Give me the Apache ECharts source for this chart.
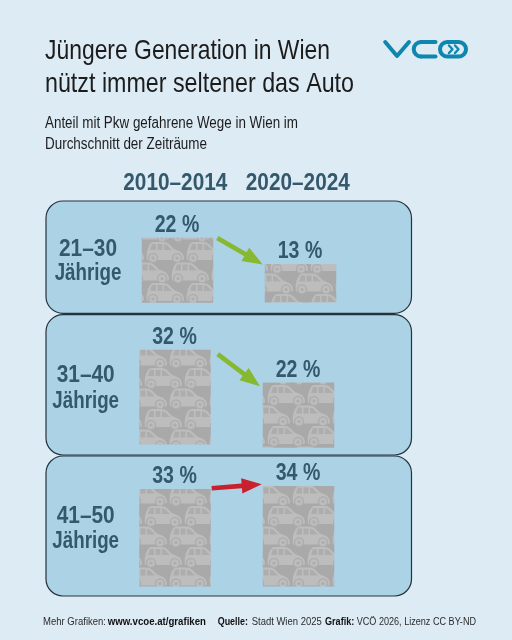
<!DOCTYPE html>
<html lang="de">
<head>
<meta charset="utf-8">
<title>Jüngere Generation in Wien</title>
<script src="https://cdn.jsdelivr.net/npm/echarts@6/dist/echarts.min.js"></script>
<style>
html,body{margin:0;padding:0;background:#ddebf5}
#chart{width:512px;height:640px}
</style>
</head>
<body>
<div id="chart"></div>
<script>
// Data
const periods = ['2010–2014', '2020–2024'];
const ageGroups = ['21–30', '31–40', '41–50'];
const ageUnit = 'Jährige';
const shareEarly = [22, 32, 33];
const shareLate = [13, 22, 34];

// Layout: one small grid per bar, all on the same px-per-percent scale
const PX_PER_PCT = 2.96;
const AXIS_MAX = 40;
const BAR_W = 71.5;
const barFrames = [
  [{cx: 177.5, base: 302.8, ax: 153, ay: 258}, {cx: 300.5, base: 302.6, ax: 277, ay: 269}],
  [{cx: 175, base: 444.5, ax: 151, ay: 384}, {cx: 298.5, base: 447.7, ax: 274, ay: 401}],
  [{cx: 175, base: 586.6, ax: 151, ay: 522}, {cx: 298.5, base: 586.6, ax: 274, ay: 522}]
];
const panels = [
  {y: 201, h: 112.4},
  {y: 314.6, h: 140.4},
  {y: 456, h: 140}
];
const rowLabels = [
  {x: 88, y1: 248, y2: 272},
  {x: 85.7, y1: 374, y2: 400},
  {x: 85.7, y1: 515, y2: 540}
];
const arrows = [
  {color: '#86b830', from: [39.8, 0.3], to: [-37.8, 0.3]},
  {color: '#86b830', from: [42.7, 4.3], to: [-38.5, 3.7]},
  {color: '#c8202d', from: [36.7, -0.7], to: [-36.8, -1.7]}
];

const FAMILY = '"Liberation Sans",Arial,sans-serif';
const INK = '#34596c';
const BAR_BG = '#a9a9a9';
const CAR = '#bdbdbd';
const CAR_DETAIL = '#adadad';
const TILE_W = 40, TILE_H = 41;

// Repeating tile of parked cars used as the bar fill
function drawCar(g, rw, w) {
  const fw = rw + 24;
  g.fillStyle = CAR;
  g.beginPath();
  g.moveTo(rw - 6, w + 2);
  g.bezierCurveTo(rw - 7, w - 4, rw - 6, w - 9, rw - 3, w - 14);
  g.quadraticCurveTo(rw - 2, w - 16, rw + 1, w - 16);
  g.lineTo(rw + 10, w - 16);
  g.quadraticCurveTo(rw + 14, w - 16, rw + 16, w - 14);
  g.lineTo(rw + 21, w - 9);
  g.lineTo(rw + 26, w - 7);
  g.quadraticCurveTo(rw + 31, w - 5, rw + 31, w + 1);
  g.lineTo(rw + 30, w + 2);
  g.closePath();
  g.fill();
  g.fillStyle = CAR_DETAIL;
  g.beginPath(); g.moveTo(rw - 3, w - 8); g.lineTo(rw - 1, w - 14); g.lineTo(rw + 3, w - 14); g.lineTo(rw + 3, w - 8); g.closePath(); g.fill();
  g.beginPath(); g.rect(rw + 4.5, w - 14, 5, 6); g.fill();
  g.beginPath(); g.moveTo(rw + 11, w - 14); g.lineTo(rw + 14, w - 13); g.lineTo(rw + 19, w - 8); g.lineTo(rw + 11, w - 8); g.closePath(); g.fill();
  [rw, fw].forEach(cx => {
    g.fillStyle = CAR_DETAIL; g.beginPath(); g.arc(cx, w, 5.2, 0, Math.PI * 2); g.fill();
    g.fillStyle = CAR; g.beginPath(); g.arc(cx, w, 3.8, 0, Math.PI * 2); g.fill();
    g.fillStyle = CAR_DETAIL; g.beginPath(); g.arc(cx, w, 1.6, 0, Math.PI * 2); g.fill();
  });
}
function carTile() {
  const c = document.createElement('canvas');
  c.width = TILE_W; c.height = TILE_H;
  const g = c.getContext('2d');
  g.fillStyle = BAR_BG; g.fillRect(0, 0, TILE_W, TILE_H);
  for (let dy = -1; dy <= 1; dy++) {
    for (let dx = -1; dx <= 1; dx++) {
      drawCar(g, 6 + dx * TILE_W, 16 + dy * TILE_H);
      drawCar(g, 31 + dx * TILE_W, 36.5 + dy * TILE_H);
    }
  }
  return c;
}
const tile = carTile();

const grids = [], xAxes = [], yAxes = [], series = [];
function addBar(frame, value, row, col) {
  const gridHeight = AXIS_MAX * PX_PER_PCT;
  const idx = grids.length;
  grids.push({left: frame.cx - BAR_W, width: BAR_W * 2, top: frame.base - gridHeight, height: gridHeight});
  xAxes.push({type: 'category', gridIndex: idx, data: [periods[col]], show: false});
  yAxes.push({type: 'value', gridIndex: idx, min: 0, max: AXIS_MAX, show: false});
  series.push({
    type: 'bar',
    name: ageGroups[row] + ' ' + periods[col],
    xAxisIndex: idx,
    yAxisIndex: idx,
    barWidth: BAR_W,
    silent: true,
    data: [{
      value,
      itemStyle: {color: {image: tile, repeat: 'repeat', x: frame.ax - 6, y: frame.ay - 16}}
    }]
  });
}
barFrames.forEach((pair, row) => {
  addBar(pair[0], shareEarly[row], row, 0);
  addBar(pair[1], shareLate[row], row, 1);
});

// Condensed lettering: each line is squeezed horizontally to its set width
const measure = document.createElement('canvas').getContext('2d');
const TEXT_DROP = 1;
function text(x, y, str, size, width, opts) {
  const o = opts || {};
  const weight = o.weight || 'normal';
  measure.font = weight + ' ' + size + 'px ' + FAMILY;
  return {
    type: 'text', x, y: y + TEXT_DROP, z: 20, scaleX: width / measure.measureText(str).width, silent: true,
    style: {
      text: str, x: 0, y: 0,
      fontFamily: FAMILY,
      fontWeight: weight,
      fontSize: size,
      fill: o.fill || '#1c1c1c',
      align: o.align || 'left',
      verticalAlign: 'middle'
    }
  };
}

const graphics = [];
panels.forEach(p => graphics.push({
  type: 'rect', z: 0, silent: true,
  shape: {x: 46, y: p.y, width: 365.5, height: p.h, r: 17},
  style: {fill: '#acd2e6', stroke: '#25333c', lineWidth: 1.2}
}));

// Header
graphics.push(text(45, 50.5, 'Jüngere Generation in Wien', 28.5, 285));
graphics.push(text(45, 83.5, 'nützt immer seltener das Auto', 28.5, 309));
graphics.push(text(45, 123, 'Anteil mit Pkw gefahrene Wege in Wien im', 16, 253));
graphics.push(text(45, 143.5, 'Durchschnitt der Zeiträume', 16, 162));
graphics.push(text(175.3, 182.5, periods[0], 24, 104, {weight: 'bold', fill: INK, align: 'center'}));
graphics.push(text(297.8, 182.5, periods[1], 24, 104, {weight: 'bold', fill: INK, align: 'center'}));

// Row captions
rowLabels.forEach((r, i) => {
  graphics.push(text(r.x, r.y1, ageGroups[i], 24, 58, {weight: 'bold', fill: INK, align: 'center'}));
  graphics.push(text(r.x, r.y2, ageUnit, 24, 66.7, {weight: 'bold', fill: INK, align: 'center'}));
});

// Footer
const FOOT = 11.5, FOOT_Y = 621;
[
  ['Mehr Grafiken:', 43, 63, 'normal'],
  ['www.vcoe.at/grafiken', 107.7, 98.3, 'bold'],
  ['Quelle:', 217.7, 30.3, 'bold'],
  ['Stadt Wien 2025', 251.7, 70, 'normal'],
  ['Grafik:', 325, 29.3, 'bold'],
  ['VCÖ 2026, Lizenz CC BY-ND', 356.7, 119.3, 'normal']
].forEach(([s, x, w, weight]) => graphics.push(text(x, FOOT_Y, s, FOOT, w, {weight, fill: weight === 'bold' ? '#111' : '#2c2c2c'})));

// Logo
const LOGO = '#0f86ad';
const logoStroke = {stroke: LOGO, lineWidth: 4, lineCap: 'round', lineJoin: 'round', fill: null};
const fineStroke = Object.assign({}, logoStroke, {lineWidth: 2.4});
graphics.push(
  {type: 'polyline', z: 20, silent: true, shape: {points: [[385.2, 42], [397, 56], [409, 42]]}, style: logoStroke},
  {type: 'polyline', z: 20, silent: true, shape: {points: [[435.5, 42], [421, 42]]}, style: logoStroke},
  {type: 'polyline', z: 20, silent: true, shape: {points: [[435.5, 56.5], [421, 56.5]]}, style: logoStroke},
  {type: 'arc', z: 20, silent: true, shape: {cx: 421, cy: 49.25, r: 7.25, startAngle: Math.PI / 2, endAngle: Math.PI * 1.5}, style: logoStroke},
  {type: 'rect', z: 20, silent: true, shape: {x: 440, y: 42, width: 26, height: 14.5, r: 7.25}, style: logoStroke},
  {type: 'polyline', z: 20, silent: true, shape: {points: [[449, 45.5], [452.5, 49.25], [449, 53]]}, style: fineStroke},
  {type: 'polyline', z: 20, silent: true, shape: {points: [[455, 45.5], [458.5, 49.25], [455, 53]]}, style: fineStroke}
);

const chart = echarts.init(document.getElementById('chart'), null, {renderer: 'canvas', width: 512, height: 640});
chart.setOption({
  animation: false,
  backgroundColor: '#ddebf5',
  grid: grids,
  xAxis: xAxes,
  yAxis: yAxes,
  series,
  graphic: {elements: graphics}
});

// Arrows run from the top of the earlier bar to the top of the later bar
function arrowPolygon(a, b) {
  const dx = b[0] - a[0], dy = b[1] - a[1];
  const len = Math.hypot(dx, dy), ux = dx / len, uy = dy / len, nx = -uy, ny = ux;
  const head = 20, halfHead = 7.6, halfShaft = 2.3;
  const n = (d, s) => [a[0] + ux * d + nx * s, a[1] + uy * d + ny * s];
  return [n(0, -halfShaft), n(len - head, -halfShaft), n(len - head, -halfHead), [b[0], b[1]], n(len - head, halfHead), n(len - head, halfShaft), n(0, halfShaft)];
}
const extras = [];
arrows.forEach((arw, row) => {
  const p0 = chart.convertToPixel({gridIndex: row * 2}, [0, shareEarly[row]]);
  const p1 = chart.convertToPixel({gridIndex: row * 2 + 1}, [0, shareLate[row]]);
  const start = [p0[0] + arw.from[0], p0[1] + arw.from[1]];
  const end = [p1[0] + arw.to[0], p1[1] + arw.to[1]];
  extras.push({type: 'polygon', z: 15, silent: true, shape: {points: arrowPolygon(start, end)}, style: {fill: arw.color}});
  // Value labels sit a fixed distance above each bar
  extras.push(text(p0[0] - 0.5, p0[1] - 13.5, shareEarly[row] + ' %', 24, 44.5, {weight: 'bold', fill: INK, align: 'center'}));
  extras.push(text(p1[0] - 0.5, p1[1] - 13.5, shareLate[row] + ' %', 24, 44.5, {weight: 'bold', fill: INK, align: 'center'}));
});
chart.setOption({graphic: {elements: graphics.concat(extras)}});
</script>
</body>
</html>
